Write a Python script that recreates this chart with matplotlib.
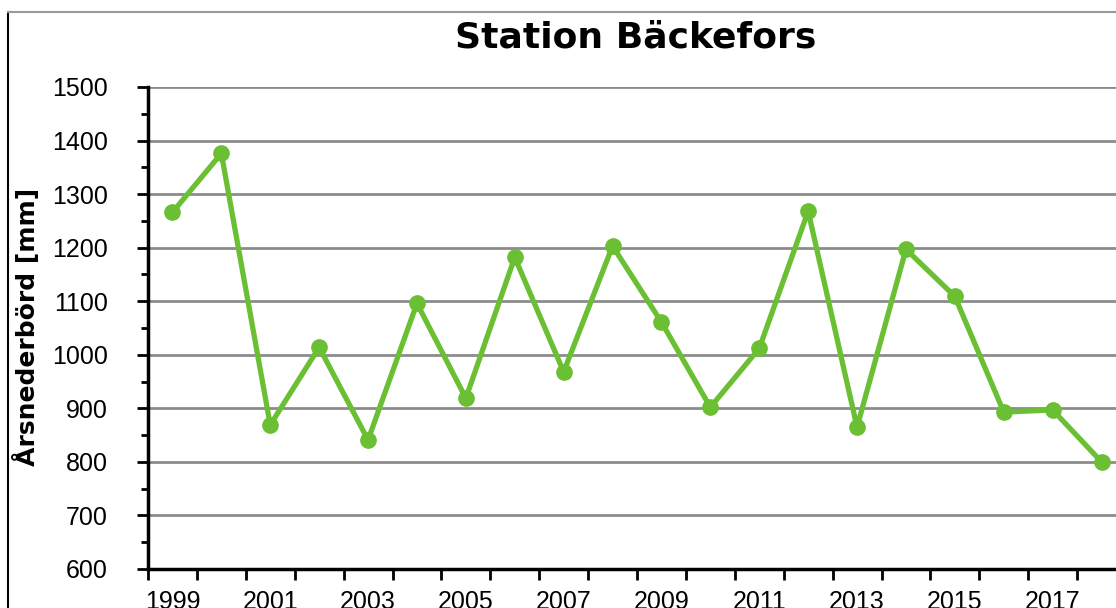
import numpy as np
import matplotlib.pyplot as plt
from matplotlib.lines import Line2D

years = list(range(1999, 2019))
precip = [1266, 1376, 869, 1014, 841, 1096, 919, 1182, 968, 1203,
          1061, 902, 1012, 1268, 865, 1197, 1109, 893, 897, 800]
label_years = years[::2]

W, H = 1116, 608
fig = plt.figure(figsize=(W / 100, H / 100), dpi=100)

# chart area border (partly cropped like the source)
fig.add_artist(Line2D([8 / W, 8 / W], [1 - 12 / H, 0], color='black', lw=1.5))
fig.add_artist(Line2D([8 / W, 1], [1 - 12 / H, 1 - 12 / H], color='#999999', lw=1.5))

ax = fig.add_axes([148 / W, 39 / H, 978 / W, 482 / H])
x = np.arange(len(years))
ax.plot(x, precip, color='#6abf33', lw=3.8, marker='o', markersize=11,
        solid_joinstyle='round', zorder=3)

ax.set_xlim(-0.5, len(years) - 0.5)
ax.set_ylim(600, 1500)
ax.set_yticks(np.arange(600, 1501, 100))
ax.set_yticks(np.arange(650, 1500, 100), minor=True)
ax.yaxis.grid(True, which='major', color='#8c8c8c', lw=2)
ax.set_axisbelow(True)

# tick marks sit between categories, labels on every other year
ax.set_xticks(np.arange(-0.5, len(years), 1))
ax.set_xticklabels([])
ax.set_xticks([years.index(y) for y in label_years], minor=True)
ax.set_xticklabels([str(y) for y in label_years], minor=True)

ax.tick_params(axis='both', which='major', direction='out', length=8, width=2,
               color='black', labelsize=18)
ax.tick_params(axis='y', which='minor', direction='out', length=5, width=2)
ax.tick_params(axis='x', which='minor', length=0, pad=15, labelsize=18)
ax.tick_params(axis='y', which='major', pad=21)
for lab in ax.get_yticklabels() + ax.get_xticklabels(minor=True):
    lab.set_fontfamily('Liberation Sans')

for s in ['top', 'right']:
    ax.spines[s].set_visible(False)
ax.spines['left'].set_linewidth(2.5)
ax.spines['bottom'].set_linewidth(2.5)

fig.text(27 / W, 1 - 327 / H, 'Årsnederbörd [mm]', fontsize=18, fontweight='bold',
         fontfamily='DejaVu Sans', rotation=90, ha='center', va='center')
fig.text(636 / W, 1 - 37 / H, 'Station Bäckefors', fontsize=26, fontweight='bold',
         fontfamily='DejaVu Sans', ha='center', va='center')

fig.savefig('out.png', dpi=100)
